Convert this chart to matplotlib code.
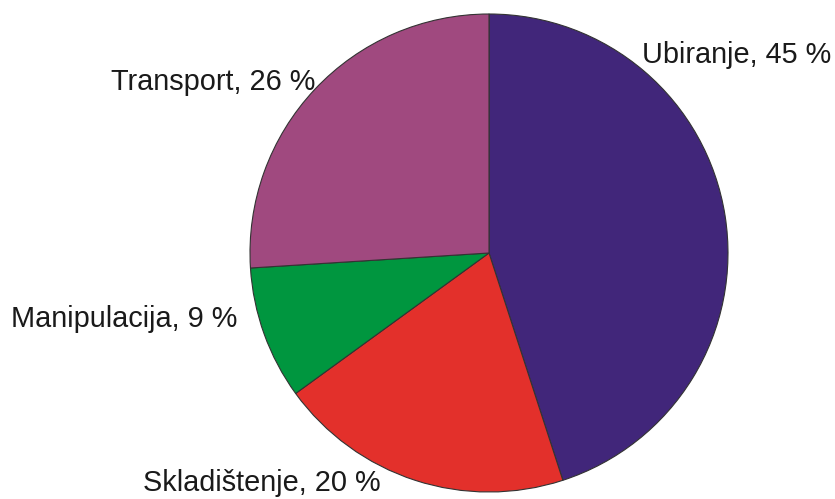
import matplotlib
matplotlib.use('Agg')
import matplotlib.pyplot as plt

plt.rcParams['font.family'] = ['Liberation Sans', 'DejaVu Sans']

LABELS = ["Ubiranje", "Skladištenje", "Manipulacija", "Transport"]
SHARES = [45, 20, 9, 26]
COLORS = ["#41267a", "#e3302b", "#00963f", "#a0497f"]

# label baseline positions in pixels (x, y from top)
LABEL_POS = [(642, 63), (143, 491), (11, 327), (111, 90)]

fig = plt.figure(figsize=(8.35, 4.99), dpi=100)
ax = fig.add_axes([0, 0, 1, 1])
ax.set_xlim(0, 835)
ax.set_ylim(0, 499)
ax.set_aspect('equal')

ax.pie(SHARES, colors=COLORS, startangle=90, counterclock=False,
       center=(489, 499 - 253), radius=239, frame=True,
       wedgeprops=dict(edgecolor='#333333', linewidth=0.8))

for lab, val, (x, y) in zip(LABELS, SHARES, LABEL_POS):
    ax.text(x, 499 - y, f"{lab}, {val} %", fontsize=20.8, ha='left',
            va='baseline', color='#1a1a1a')

ax.set_axis_off()
fig.savefig('out.png', dpi=100, facecolor='white')
